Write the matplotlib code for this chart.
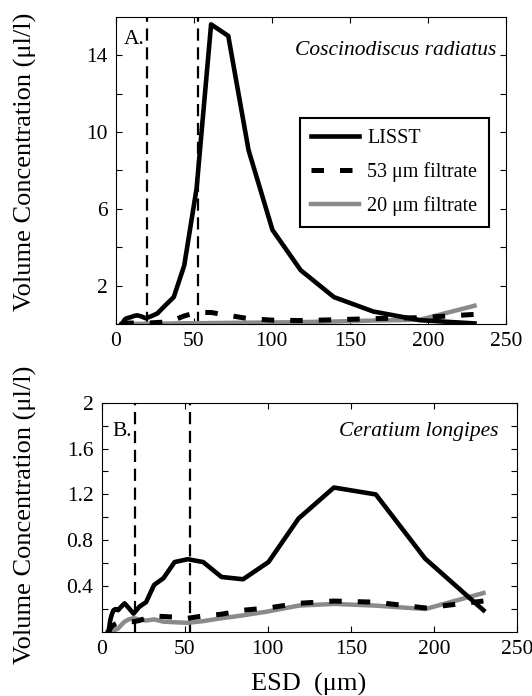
import matplotlib
matplotlib.use('Agg')
import matplotlib.pyplot as plt

plt.rcParams['font.family'] = ['Liberation Serif', 'DejaVu Serif']
plt.rcParams['mathtext.fontset'] = 'stix'

# LISST size bins (um)
esd = [3.66, 4.32, 5.1, 6.02, 7.1, 8.38, 9.89, 11.67, 13.77, 16.25, 19.18, 22.63,
       26.71, 31.52, 37.2, 43.9, 51.8, 61.1, 72.1, 85.1, 100.4, 118.5, 139.8,
       165.0, 194.7, 229.8]

# A. Coscinodiscus radiatus
lisst_a = [0, 0.05, 0.15, 0.25, 0.3, 0.33, 0.36, 0.42, 0.45, 0.4, 0.3, 0.4, 0.55,
           0.95, 1.4, 3.05, 7.05, 15.6, 15.0, 9.05, 4.9, 2.8, 1.4, 0.65, 0.2, 0.03]
f53_a = [0, 0.02, 0.03, 0.04, 0.05, 0.05, 0.05, 0.05, 0.05, 0.05, 0.05, 0.06, 0.08,
         0.1, 0.2, 0.42, 0.6, 0.6, 0.45, 0.28, 0.2, 0.18, 0.22, 0.28, 0.33, 0.5]
f20_a = [0, 0, 0, 0, 0, 0, 0, 0.005, 0.01, 0.01, 0.015, 0.015, 0.02, 0.02, 0.03,
         0.04, 0.04, 0.05, 0.06, 0.07, 0.08, 0.1, 0.13, 0.18, 0.22, 0.95]

# B. Ceratium longipes
lisst_b = [0, 0.02, 0.1, 0.15, 0.19, 0.2, 0.19, 0.22, 0.25, 0.21, 0.16, 0.22, 0.26,
           0.41, 0.47, 0.61, 0.635, 0.61, 0.48, 0.46, 0.61, 0.99, 1.26, 1.2, 0.64, 0.19]
f53_b = [0, 0, 0.03, 0.045, 0.06, 0.07, 0.08, 0.085, 0.09, 0.09, 0.09, 0.1, 0.12,
         0.14, 0.135, 0.13, 0.12, 0.14, 0.155, 0.19, 0.21, 0.25, 0.27, 0.26, 0.21, 0.27]
f20_b = [0, 0, 0, 0, 0, 0.02, 0.03, 0.06, 0.09, 0.11, 0.12, 0.11, 0.1, 0.11, 0.09,
         0.085, 0.08, 0.095, 0.12, 0.145, 0.18, 0.23, 0.245, 0.23, 0.2, 0.34]

filter_sizes = [20, 53]
xticks = [0, 50, 100, 150, 200, 250]

W, H = 532, 696
fig = plt.figure(figsize=(W / 100, H / 100), dpi=100)

ax1 = fig.add_axes([115.7 / W, 1 - 324 / H, (506 - 115.7) / W, (324 - 16.7) / H])
ax2 = fig.add_axes([101.7 / W, 1 - 632 / H, (517 - 101.7) / W, (632 - 402.7) / H])

grey = '#8a8a8a'


def draw_panel(ax, lisst, f53, f20, ymax):
    ax.plot(esd, f20, color=grey, lw=3.2, label='20 μm filtrate', zorder=2)
    ax.plot(esd, f53, color='black', lw=3.6, linestyle=(0, (2.5, 3.2)),
            label='53 μm filtrate', zorder=3)
    ax.plot(esd, lisst, color='black', lw=3.3, label='LISST', zorder=4)
    for fs in filter_sizes:
        ax.plot([fs, fs], [0, ymax], color='black', lw=1.6,
                linestyle=(0, (5.5, 3)), zorder=1)
    ax.set_xlim(0, 250)
    ax.set_ylim(0, ymax)
    ax.set_xticks(xticks)
    ax.set_xticklabels([str(t) for t in xticks])
    ax.tick_params(which='both', direction='in', top=True, right=True,
                   length=4, width=0.8, labelsize=15.5, pad=6)
    for sp in ax.spines.values():
        sp.set_linewidth(0.8)


draw_panel(ax1, lisst_a, f53_a, f20_a, 16)
ax1.set_yticks([2, 6, 10, 14])
ax1.set_yticklabels(['2', '6', '10', '14'])
ax1.set_yticks([4, 8, 12], minor=True)
ax1.text(0.02, 0.925, 'A.', transform=ax1.transAxes, fontsize=15.5, va='center')
ax1.text(0.975, 0.89, 'Coscinodiscus radiatus', transform=ax1.transAxes,
         fontsize=15.5, style='italic', ha='right', va='center')

handles, labels = ax1.get_legend_handles_labels()
order = [2, 1, 0]
leg = ax1.legend([handles[i] for i in order], [labels[i] for i in order],
                 loc='upper left', bbox_to_anchor=(0.472, 0.67), fontsize=14.5,
                 frameon=True, fancybox=False, framealpha=1, edgecolor='black',
                 handlelength=2.4, handletextpad=0.4, labelspacing=0.7,
                 borderpad=0.55, borderaxespad=0)
leg.get_frame().set_linewidth(1.5)

draw_panel(ax2, lisst_b, f53_b, f20_b, 2)
ax2.set_yticks([0.4, 0.8, 1.2, 1.6, 2])
ax2.set_yticklabels(['0.4', '0.8', '1.2', '1.6', '2'])
ax2.set_yticks([0.2, 0.6, 1.0, 1.4, 1.8], minor=True)
ax2.text(0.025, 0.875, 'B.', transform=ax2.transAxes, fontsize=15.5, va='center')
ax2.text(0.955, 0.875, 'Ceratium longipes', transform=ax2.transAxes,
         fontsize=15.5, style='italic', ha='right', va='center')

fig.text(25 / W, 1 - 162 / H, 'Volume Concentration (μl/l)', rotation=90,
         fontsize=19, ha='center', va='center')
fig.text(25 / W, 1 - 515 / H, 'Volume Concentration (μl/l)', rotation=90,
         fontsize=19, ha='center', va='center')
fig.text(309 / W, 1 - 684 / H, 'ESD  (μm)', fontsize=19, ha='center', va='center')

fig.savefig('out.png', dpi=100)
